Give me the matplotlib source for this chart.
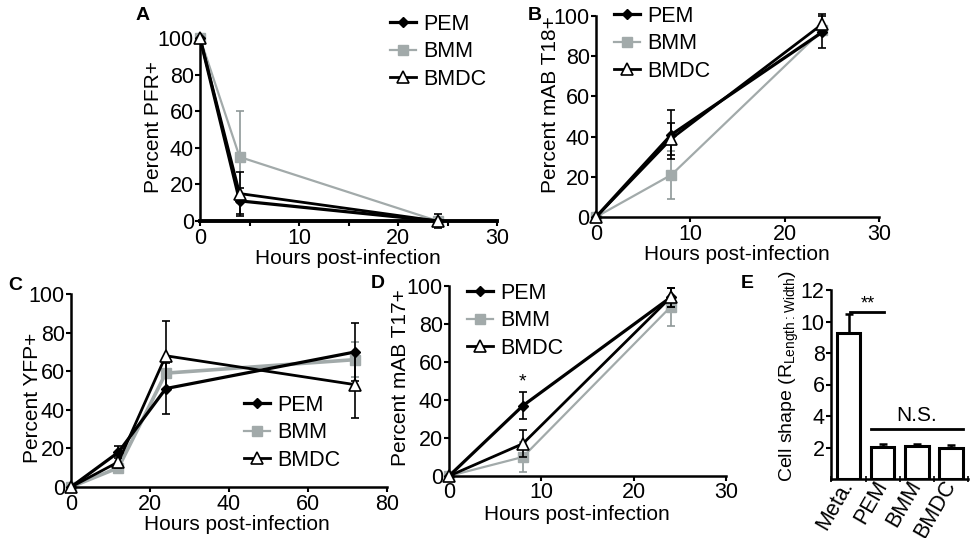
import matplotlib
matplotlib.use("Agg")
import matplotlib.pyplot as plt
import numpy as np

plt.rcParams['font.family'] = ['Liberation Sans', 'DejaVu Sans']
plt.rcParams['font.size'] = 15
plt.rcParams['mathtext.default'] = 'regular'

# ---------------- data ----------------
series_names = ['PEM', 'BMM', 'BMDC']

# Panel A: Percent PFR+
timesA = [0, 4, 24]
pfrA_pem = [100, 11, 0]
pfrA_pem_err = [0, 7, 0]
pfrA_bmm = [100, 35, 0]
pfrA_bmm_err = [0, 25, 0]
pfrA_bmdc = [100, 15, 0]
pfrA_bmdc_err = [0, 12, 4]

# Panel B: Percent mAB T18+
timesB = [0, 8, 24]
t18_pem = [0, 41, 92]
t18_pem_err = [0, 12, 8]
t18_bmm = [0, 21, 93]
t18_bmm_err = [0, 12, 0]
t18_bmdc = [0, 39, 96]
t18_bmdc_err = [0, 8, 5]

# Panel C: Percent YFP+
timesC = [0, 12, 24, 72]
yfp_pem = [0, 18, 51, 70]
yfp_pem_err = [0, 3, 13, 15]
yfp_bmm = [0, 10, 59, 66]
yfp_bmm_err = [0, 2, 8, 9]
yfp_bmdc = [0, 13, 68, 53]
yfp_bmdc_err = [0, 3, 18, 17]

# Panel D: Percent mAB T17+
timesD = [0, 8, 24]
t17_pem = [0, 37, 94]
t17_pem_err = [0, 7, 5]
t17_bmm = [0, 10, 89]
t17_bmm_err = [0, 8, 10]
t17_bmdc = [0, 17, 94]
t17_bmdc_err = [0, 7, 5]

# Panel E: cell shape
cellE_cats = ['Meta.', 'PEM', 'BMM', 'BMDC']
cellE_vals = [9.3, 2.05, 2.1, 2.0]
cellE_errs = [1.2, 0.2, 0.15, 0.15]

# ---------------- styles ----------------
GRAY = '#a2aaaa'
styles = {
    'PEM': dict(color='black', marker='D', ms=5.5, mfc='black', mec='black', lw=2.3),
    'BMM': dict(color=GRAY, marker='s', ms=6.5, mfc=GRAY, mec=GRAY, lw=1.6),
    'BMDC': dict(color='black', marker='^', ms=8, mfc='white', mec='black', lw=2.0, mew=1.2),
}

W, H = 980, 538
fig = plt.figure(figsize=(W / 100, H / 100), dpi=100)
TICK_FS = 15.5
LAB_FS = 15
LEG_FS = 15.5


def rect(x0, x1, y0, y1):
    return [x0 / W, 1 - y0 / H, (x1 - x0) / W, (y0 - y1) / H]


def px_to_axes(ax, px, py):
    bb = ax.get_position()
    fx, fy = px / W, 1 - py / H
    return (fx - bb.x0) / bb.width, (fy - bb.y0) / bb.height


def style_axes(ax, bottom_lw=1.8):
    for s in ['top', 'right']:
        ax.spines[s].set_visible(False)
    ax.spines['left'].set_linewidth(1.8)
    ax.spines['bottom'].set_linewidth(bottom_lw)
    ax.tick_params(direction='out', length=3.5, width=1.5, pad=1, labelsize=TICK_FS)
    ax.tick_params(axis='x', pad=1.5)


def place_labels(ax, xlabel, ylabel, xl_pos, yl_pos):
    ax.set_xlabel(xlabel, fontsize=LAB_FS)
    ax.set_ylabel(ylabel, fontsize=LAB_FS)
    ax.xaxis.set_label_coords(*px_to_axes(ax, *xl_pos))
    ax.yaxis.set_label_coords(*px_to_axes(ax, *yl_pos))
    ax.xaxis.label.set_va('center')
    ax.yaxis.label.set_va('center')


def line_panel(ax, t, data, gray_lw=None):
    for name in ['BMM', 'PEM', 'BMDC']:
        y, e = data[name]
        st = dict(styles[name])
        if gray_lw and name == 'BMM':
            st['lw'] = gray_lw
        ecol = '#8f9898' if name == 'BMM' else 'black'
        h = ax.errorbar(t, y, yerr=e, capsize=3, elinewidth=1.2, capthick=1.2,
                        ecolor=ecol, zorder={'BMM': 2, 'PEM': 3, 'BMDC': 4}[name], **st)
        for c in h.get_children():
            c.set_clip_on(False)


def legend_panel(ax, x, y):
    hs = [plt.Line2D([], [], **styles[name]) for name in series_names]
    ax.legend(hs, series_names, loc='upper left', bbox_to_anchor=(x / W, 1 - y / H),
              bbox_transform=fig.transFigure, frameon=False, borderpad=0,
              borderaxespad=0, handlelength=1.2, handletextpad=0.35,
              labelspacing=0.3, fontsize=LEG_FS)


# ---- Panel A ----
axA = fig.add_axes(rect(200, 497, 221, 38))
line_panel(axA, timesA, {'PEM': (pfrA_pem, pfrA_pem_err),
                         'BMM': (pfrA_bmm, pfrA_bmm_err),
                         'BMDC': (pfrA_bmdc, pfrA_bmdc_err)})
axA.set_xlim(0, 30)
axA.set_ylim(0, 100)
axA.set_xticks(np.arange(0, 31, 10))
axA.set_xticks(np.arange(0, 31, 5), minor=True)
axA.set_yticks(np.arange(0, 101, 20))
style_axes(axA, bottom_lw=2.8)
axA.tick_params(which='minor', direction='out', length=3.5, width=1.5)
place_labels(axA, 'Hours post-infection', 'Percent PFR+', (348, 259), (153, 127))
legend_panel(axA, 390, 14)

# ---- Panel B ----
axB = fig.add_axes(rect(596, 879, 217, 16))
line_panel(axB, timesB, {'PEM': (t18_pem, t18_pem_err),
                         'BMM': (t18_bmm, t18_bmm_err),
                         'BMDC': (t18_bmdc, t18_bmdc_err)})
axB.set_xlim(0, 30)
axB.set_ylim(0, 100)
axB.set_xticks(np.arange(0, 31, 10))
axB.set_yticks(np.arange(0, 101, 20))
style_axes(axB)
place_labels(axB, 'Hours post-infection', 'Percent mAB T18+', (737, 254), (550, 105))
legend_panel(axB, 614, 6)

# ---- Panel C ----
axC = fig.add_axes(rect(71, 387, 487, 294))
line_panel(axC, timesC, {'PEM': (yfp_pem, yfp_pem_err),
                         'BMM': (yfp_bmm, yfp_bmm_err),
                         'BMDC': (yfp_bmdc, yfp_bmdc_err)}, gray_lw=2.6)
axC.set_xlim(0, 80)
axC.set_ylim(0, 100)
axC.set_xticks(np.arange(0, 81, 20))
axC.set_yticks(np.arange(0, 101, 20))
style_axes(axC)
place_labels(axC, 'Hours post-infection', 'Percent YFP+', (237, 524), (33, 398))
legend_panel(axC, 244, 395)

# ---- Panel D ----
axD = fig.add_axes(rect(449, 726, 476, 286))
line_panel(axD, timesD, {'PEM': (t17_pem, t17_pem_err),
                         'BMM': (t17_bmm, t17_bmm_err),
                         'BMDC': (t17_bmdc, t17_bmdc_err)})
axD.set_xlim(0, 30)
axD.set_ylim(0, 100)
axD.set_xticks(np.arange(0, 31, 10))
axD.set_yticks(np.arange(0, 101, 20))
style_axes(axD)
axD.tick_params(axis='x', pad=0.5)
place_labels(axD, 'Hours post-infection', 'Percent mAB T17+', (577, 514), (400, 378))
axD.text(timesD[1], t17_pem[1] + t17_pem_err[1] + 1, '*', ha='center', va='bottom', fontsize=14)
legend_panel(axD, 467, 283)

# ---- Panel E ----
axE = fig.add_axes(rect(831, 968, 479, 290))
xE = np.arange(len(cellE_cats))
axE.bar(xE, cellE_vals, width=0.69, color='white', edgecolor='black', linewidth=2.2, zorder=2)
axE.errorbar(xE, cellE_vals, yerr=[np.zeros(len(cellE_vals)), cellE_errs], fmt='none',
             ecolor='black', elinewidth=1.8, capsize=3, capthick=1.8, zorder=1)
axE.set_xlim(-0.514, 3.4)
axE.set_ylim(0, 12)
axE.set_yticks(np.arange(2, 13, 2))
axE.set_xticks(xE)
axE.set_xticklabels(cellE_cats, rotation=60, ha='right', va='center',
                    rotation_mode='anchor', fontsize=12)
style_axes(axE)
axE.tick_params(axis='x', length=0, pad=2)
axE.set_xticks(np.arange(-0.5, 3.6, 1), minor=True)
axE.tick_params(axis='x', which='minor', direction='inout', length=4, width=1.2)
axE.set_ylabel('Cell shape (R$_{Length:Width}$)', fontsize=14)
axE.yaxis.set_label_coords(*px_to_axes(axE, 789, 376))
axE.yaxis.label.set_va('center')
# significance annotations
axE.plot([0.05, 1.05], [10.6, 10.6], color='black', lw=2, clip_on=False)
axE.text(0.55, 10.55, '**', ha='center', va='bottom', fontsize=13)
axE.plot([0.66, 3.34], [3.2, 3.2], color='black', lw=2, clip_on=False)
axE.text(2.0, 3.45, 'N.S.', ha='center', va='bottom', fontsize=15)

# ---- panel letters ----
for lab, (px, py) in {'A': (143, 16), 'B': (535, 16), 'C': (15, 285),
                      'D': (378, 284), 'E': (747, 284)}.items():
    fig.text(px / W, 1 - py / H, lab, ha='center', va='center', fontsize=14, fontweight='bold')

fig.savefig('out.png', dpi=100)
